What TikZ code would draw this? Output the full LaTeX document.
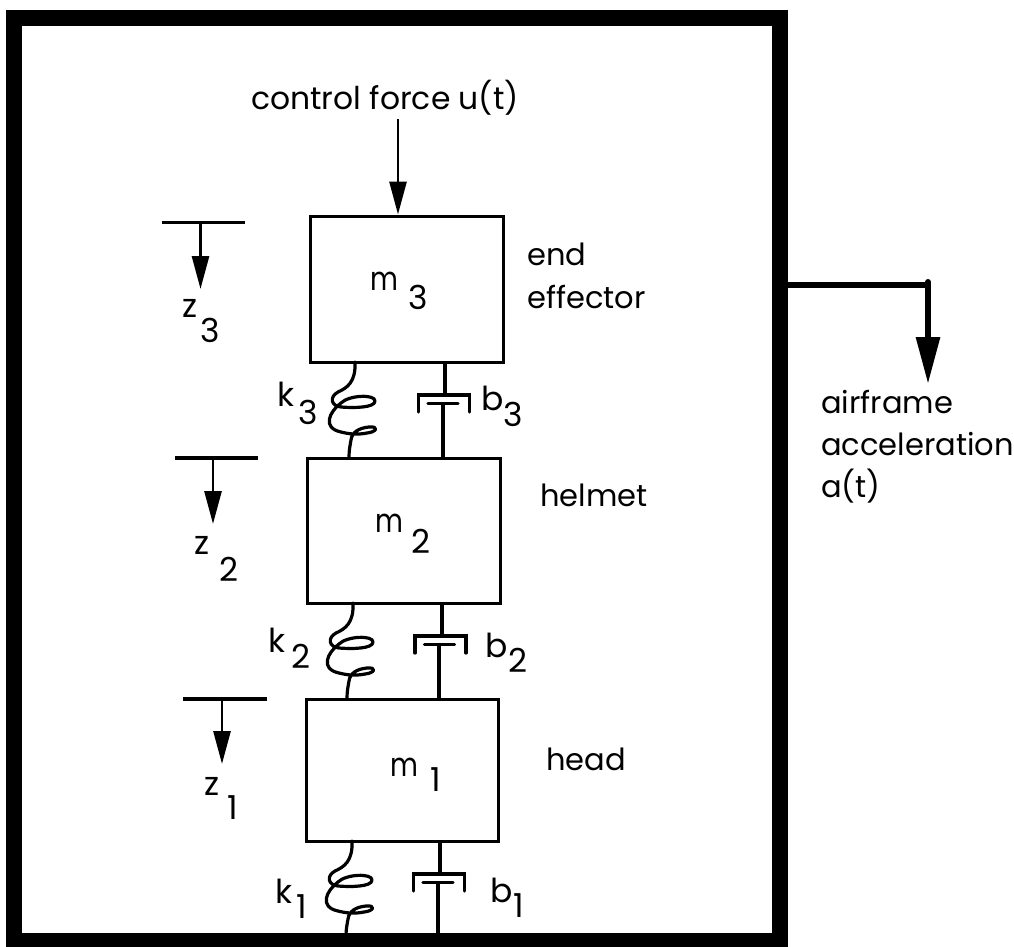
\documentclass[tikz,border=0pt]{standalone}
\usepackage{graphicx}
\usepackage{fontspec}
\setmainfont{Poppins}
\usetikzlibrary{arrows.meta}
\tikzset{
  x=1pt,y=-1pt,
  massbox/.style={draw,line width=3pt,inner sep=0,rectangle},
  lab/.style={inner sep=0,anchor=base west,font=\fontsize{30.5}{34}\selectfont},
  sym/.style={inner sep=0,anchor=base west,font=\fontsize{33}{34}\selectfont},
  sub/.style={inner sep=0,anchor=base west,font=\fontsize{33}{34}\selectfont},
  ln/.style={line width=3.2pt},
  spring/.pic={
    \draw[line width=3.2pt,line cap=round,line join=round]
      (0,0) .. controls (1,20) and (-8,26) .. (-17,30)
      .. controls (-26,35) and (-24,44) .. (-14,45)
      .. controls (-2,46) and (20,46) .. (20,39)
      .. controls (20,32) and (-6,33) .. (-14,41)
      .. controls (-26,50) and (-33,66) .. (-14,70)
      .. controls (-6,72) and (2,73) .. (12,71)
      .. controls (22,70) and (24,64) .. (14,65)
      .. controls (4,66) and (-3,70) .. (-4,78)
      .. controls (-5,84) and (-6,88) .. (-6,95);
  },
  dashpot/.pic={
    \draw[line width=3.2pt,line cap=round]
      (-25.5,17) -- (-25.5,0) -- (25.5,0) -- (25.5,17)
      (-16,8.5) -- (14,8.5);
  },
  smallarrow/.style={line width=2.8pt,-{Stealth[length=33pt,width=17pt,inset=0pt]}}
}
\newcommand{\mm}{\scalebox{.82}[1]{m}}
\begin{document}
\begin{tikzpicture}
\useasboundingbox (0,0) rectangle (1014,947);
\fill[white] (0,0) rectangle (1014,947);
\node[draw,line width=16pt,rectangle,inner sep=0,minimum width=766.5pt,minimum height=923pt] (frame) at (396.75,479.5) {};

\node[massbox,minimum width=193pt,minimum height=146pt] (m3) at (406.5,289) {};
\node[massbox,minimum width=193pt,minimum height=145pt] (m2) at (403.5,530.5) {};
\node[massbox,minimum width=192pt,minimum height=142pt] (m1) at (402,770) {};

\node[lab,font=\fontsize{31.4}{34}\selectfont] (cf) at (251,110) {control force u(t)};
\coordinate (cfa) at (398,119);
\draw[smallarrow] (cfa) -- (cfa |- m3.north);

% m labels
\node[sym] (lm3) at (370,290) {\mm};
\node[sub] (l3) at (408,309) {3};
\node[sym] (lm2) at (375,532) {\mm};
\node[sub] (l2) at (411,553) {2};
\node[sym] (lm1) at (390,776) {\mm};
\node[sub] (l1) at (430,791) {1};

\node[lab] (ee) at (527,265) {end};
\node[lab] (ee2) at (527,308) {effector};
\node[lab] (hl) at (540,506) {helmet};
\node[lab] (hd) at (546,770) {head};
\node[lab] (af1) at (821,413) {airframe};
\node[lab] (af2) at (821,455) {acceleration};
\node[lab] (af3) at (821,497) {a(t)};

% z markers
\coordinate (z3l) at (162,222.5); \coordinate (z3r) at (245,222.5);
\coordinate (z2l) at (175,458); \coordinate (z2r) at (258,458);
\coordinate (z1l) at (183,699); \coordinate (z1r) at (267,699);
\draw[ln] (z3l) -- (z3r);
\draw[ln] (z2l) -- (z2r);
\draw[ln] (z1l) -- (z1r);
\coordinate (z3a) at (200.5,222.5); \coordinate (z3b) at (200.5,289);
\coordinate (z2a) at (213,458); \coordinate (z2b) at (213,524);
\coordinate (z1a) at (222,699); \coordinate (z1b) at (222,764);
\draw[smallarrow] (z3a) -- (z3b);
\draw[smallarrow] (z2a) -- (z2b);
\draw[smallarrow] (z1a) -- (z1b);
\node[sym] (zt3) at (182,317) {z};
\node[sub] (zs3) at (200,342) {3};
\node[sym] (zt2) at (194,554) {z};
\node[sub] (zs2) at (219,581) {2};
\node[sym] (zt1) at (204,795) {z};
\node[sub] (zs1) at (227,819) {1};

% springs
\pic at (355,362) {spring};
\pic at (353,603) {spring};
\pic at (352,841) {spring};
\node[sym] (k3) at (277,406) {k};
\node[sub] (k3s) at (298,424) {3};
\node[sym] (k2) at (268,652) {k};
\node[sub] (k2s) at (291,668) {2};
\node[sym] (k1) at (275,903) {k};
\node[sub] (k1s) at (296,918) {1};

% dashpots
\coordinate (d3t) at (445,395); \coordinate (d3p) at (443,403.5);
\coordinate (d2t) at (442,636); \coordinate (d2p) at (439,644.5);
\coordinate (d1t) at (440,874); \coordinate (d1p) at (438,882.5);
\draw[ln] (d3t |- m3.south) -- (d3t);
\draw[ln] (d3p) -- (d3p |- m2.north);
\draw[ln] (d2t |- m2.south) -- (d2t);
\draw[ln] (d2p) -- (d2p |- m1.north);
\draw[ln] (d1t |- m1.south) -- (d1t);
\draw[ln] (d1p) -- (d1p |- frame.south);
\pic at (444,395) {dashpot};
\pic at (440.5,636) {dashpot};
\pic at (439,874) {dashpot};
\node[sym] (b3) at (481,410) {b};
\node[sub] (b3s) at (503,426) {3};
\node[sym] (b2) at (485,657) {b};
\node[sub] (b2s) at (508,672) {2};
\node[sym] (b1) at (490,902) {b};
\node[sub] (b1s) at (513,917) {1};

% airframe acceleration
\coordinate (ac) at (928,285);
\draw[line width=6.5pt] (frame.east |- ac) -- (ac);
\draw[line width=6pt,line cap=round,-{Stealth[length=47pt,width=23pt,inset=0pt]}] (928,282) -- (928,384);
\end{tikzpicture}
\end{document}
